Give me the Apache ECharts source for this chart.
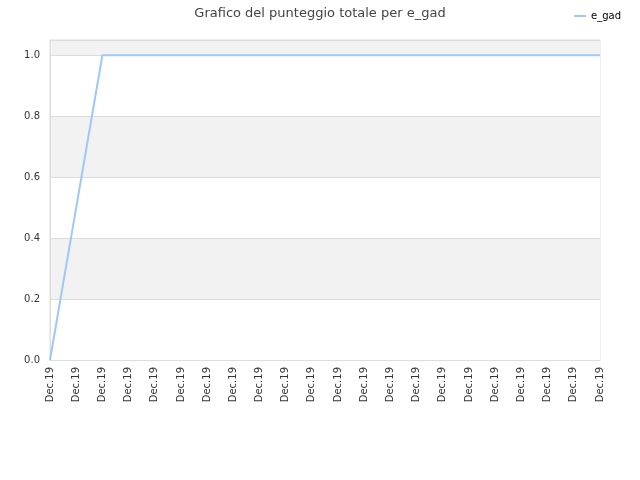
<!DOCTYPE html>
<html>
<head>
<meta charset="utf-8">
<script src="https://cdn.jsdelivr.net/npm/echarts@6/dist/echarts.min.js"></script>
<style>
  html, body { margin: 0; padding: 0; background: #fff; }
  #chart { width: 640px; height: 480px; }
</style>
</head>
<body>
<div id="chart"></div>
<script>
// dati del grafico
var seriesName = 'e_gad';
var labels = ['Dec.19', 'Dec.19', 'Dec.19', 'Dec.19', 'Dec.19', 'Dec.19', 'Dec.19', 'Dec.19',
              'Dec.19', 'Dec.19', 'Dec.19', 'Dec.19', 'Dec.19', 'Dec.19', 'Dec.19', 'Dec.19',
              'Dec.19', 'Dec.19', 'Dec.19', 'Dec.19', 'Dec.19', 'Dec.19'];
var scores = [0, 0.5, 1, 1, 1, 1, 1, 1, 1, 1, 1, 1, 1, 1, 1, 1, 1, 1, 1, 1, 1, 1];

var myChart = echarts.init(document.getElementById('chart'));

var option = {
    animation: false,
    textStyle: { fontFamily: 'DejaVu Sans' },
    title: {
        text: 'Grafico del punteggio totale per e_gad',
        left: 'center',
        top: 2,
        textStyle: { fontSize: 13, fontWeight: 'normal', color: '#444' }
    },
    legend: {
        data: [seriesName],
        right: 14,
        top: 6,
        itemWidth: 12,
        itemHeight: 2,
        icon: 'rect',
        textStyle: { fontSize: 10, color: '#000' }
    },
    grid: {
        left: 50,
        right: 40,
        top: 40,
        bottom: 120,
        show: true,
        borderColor: '#dddddd',
        borderWidth: 1
    },
    xAxis: {
        type: 'category',
        boundaryGap: false,
        data: labels,
        axisLine: { lineStyle: { color: '#dddddd' } },
        axisTick: { show: false },
        axisLabel: { rotate: 90, interval: 0, fontSize: 10, color: '#333', margin: 7 },
        splitLine: { show: false }
    },
    yAxis: {
        type: 'value',
        min: 0,
        max: 1.05,
        interval: 0.2,
        axisLine: { show: true, lineStyle: { color: '#dddddd' } },
        axisTick: { show: false },
        axisLabel: {
            fontSize: 10,
            color: '#333',
            margin: 10,
            formatter: function (v) { return v > 1.001 ? '' : v.toFixed(1); }
        },
        splitLine: { show: true, lineStyle: { color: '#dddddd' } },
        splitArea: { show: true, areaStyle: { color: ['#ffffff', '#f2f2f2'] } }
    },
    series: [
        {
            name: seriesName,
            type: 'line',
            data: scores,
            symbol: 'none',
            lineStyle: { color: '#9ec9f5', width: 2 },
            itemStyle: { color: '#9ec9f5' }
        }
    ]
};

myChart.setOption(option);
</script>
</body>
</html>
